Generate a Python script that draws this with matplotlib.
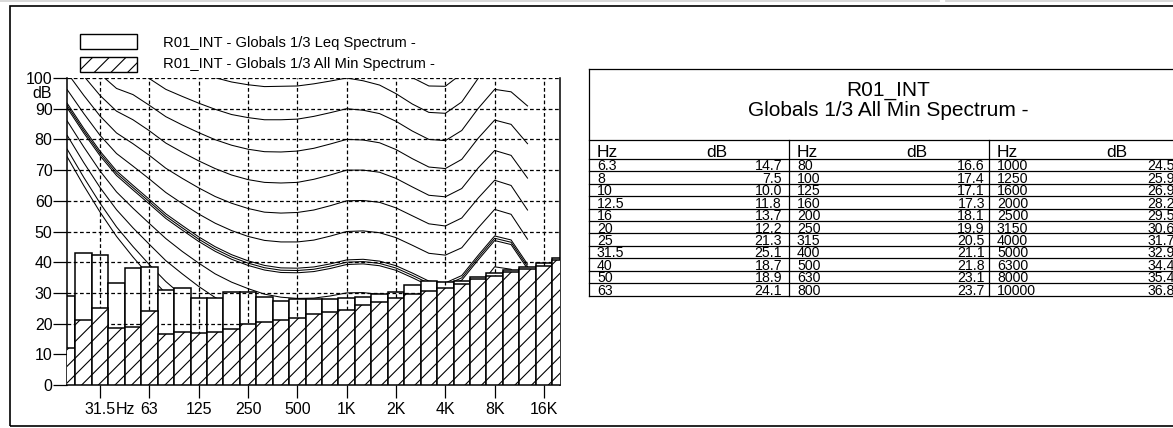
import numpy as np
import matplotlib.pyplot as plt
import matplotlib.transforms as mtransforms
from matplotlib.patches import Rectangle
from matplotlib.lines import Line2D

plt.rcParams['font.family'] = ['Liberation Sans', 'DejaVu Sans']
plt.rcParams['hatch.linewidth'] = 0.8

W, H = 1173, 428

# 1/3 octave bands (Hz) - table starts at 6.3 Hz, chart starts at 20 Hz
band_labels = ['6.3', '8', '10', '12.5', '16', '20', '25', '31.5', '40', '50', '63', '80',
               '100', '125', '160', '200', '250', '315', '400', '500', '630', '800',
               '1000', '1250', '1600', '2000', '2500', '3150', '4000', '5000', '6300',
               '8000', '10000', '12500', '16000', '20000']

# R01_INT - Globals 1/3 All Min Spectrum (dB)
min_spec = [14.7, 7.5, 10.0, 11.8, 13.7, 12.2, 21.3, 25.1, 18.7, 18.9, 24.1, 16.6,
            17.4, 17.1, 17.3, 18.1, 19.9, 20.5, 21.1, 21.8, 23.1, 23.7,
            24.5, 25.9, 26.9, 28.2, 29.5, 30.6, 31.7, 32.9, 34.4,
            35.4, 36.8, 37.8, 38.9, 40.7]

# R01_INT - Globals 1/3 Leq Spectrum (dB), 20 Hz .. 20 kHz
leq_spec = [29.1, 42.9, 42.5, 33.2, 38.1, 38.3, 30.8, 31.7, 28.2, 28.2, 30.2, 30.2,
            28.8, 27.4, 28.0, 28.0, 28.0, 28.3, 28.7, 29.5, 30.4, 32.7, 34.0, 33.4,
            33.9, 35.1, 36.4, 37.5, 38.5, 39.6, 41.5]

# equal loudness contours, 20 Hz .. 12.5 kHz (dB)
threshold = [74.3, 65.0, 56.3, 48.4, 41.7, 35.5, 29.8, 25.1, 20.7, 16.8, 13.8, 11.2, 8.9, 7.2, 6.0,
             5.0, 4.4, 4.2, 3.7, 2.6, 1.0, -1.2, -3.6, -3.9, -1.1, 6.6, 15.3, 16.4, 11.6]
phon_10 = [76.8, 67.7, 59.2, 51.5, 45.1, 39.2, 33.7, 29.1, 24.8, 21.0, 18.1, 15.6, 13.4, 11.9, 10.9,
           10.1, 9.9, 10.0, 9.7, 8.7, 7.2, 5.0, 2.6, 2.2, 4.8, 12.2, 20.4, 21.0, 15.5]
phon_20 = [81.3, 72.5, 64.3, 57.1, 51.2, 45.8, 40.5, 36.2, 32.1, 28.5, 25.7, 23.3, 21.4, 20.1, 19.4,
           19.1, 19.4, 20.0, 19.9, 19.2, 17.7, 15.4, 13.0, 12.5, 15.0, 22.0, 29.4, 29.2, 22.7]
phon_30 = [86.0, 77.6, 69.7, 62.9, 57.6, 52.6, 47.7, 43.5, 39.7, 36.2, 33.5, 31.4, 29.6, 28.6, 28.2,
           28.3, 29.0, 30.0, 30.1, 29.5, 28.0, 25.7, 23.2, 22.6, 25.0, 31.7, 38.5, 37.7, 30.4]
phon_40 = [91.0, 82.9, 75.4, 69.0, 64.3, 59.7, 55.0, 51.2, 47.5, 44.3, 41.7, 39.7, 38.2, 37.4, 37.3,
           37.7, 38.7, 40.0, 40.2, 39.6, 38.1, 35.7, 33.1, 32.5, 34.9, 41.5, 47.8, 46.5, 38.6]
phon_50 = [96.2, 88.5, 81.3, 75.4, 71.3, 67.1, 62.7, 59.1, 55.7, 52.7, 50.3, 48.4, 47.1, 46.6, 46.6,
           47.2, 48.5, 50.0, 50.2, 49.6, 48.0, 45.5, 42.9, 42.3, 44.7, 51.2, 57.2, 55.6, 47.5]
phon_60 = [101.7, 94.4, 87.6, 82.1, 78.6, 74.8, 70.6, 67.3, 64.2, 61.4, 59.2, 57.5, 56.3, 56.0, 56.2,
           57.0, 58.4, 60.0, 60.1, 59.5, 57.7, 55.1, 52.5, 51.8, 54.4, 60.9, 66.7, 65.0, 57.0]
phon_70 = [107.6, 100.7, 94.3, 89.2, 86.4, 82.8, 78.8, 75.8, 73.0, 70.5, 68.4, 66.9, 66.0, 65.8, 66.0,
           67.0, 68.4, 70.0, 70.0, 69.3, 67.3, 64.5, 61.8, 61.3, 64.0, 70.7, 76.4, 74.8, 67.4]
phon_80 = [113.7, 107.3, 101.3, 96.6, 94.6, 91.1, 87.4, 84.7, 82.2, 79.9, 78.1, 76.8, 76.0, 75.9, 76.2,
           77.1, 78.5, 80.0, 79.8, 78.9, 76.7, 73.7, 71.0, 70.5, 73.5, 80.4, 86.3, 84.9, 78.6]
phon_90 = [120.3, 114.4, 108.7, 104.4, 103.2, 99.8, 96.3, 94.0, 91.8, 89.8, 88.1, 87.1, 86.4, 86.4, 86.6,
           87.5, 88.7, 90.0, 89.5, 88.4, 85.9, 82.7, 80.0, 79.6, 82.9, 90.1, 96.3, 95.5, 90.9]
phon_100 = [127.2, 121.9, 116.6, 112.6, 112.3, 108.9, 105.6, 103.6, 101.8, 100.1, 98.7, 97.8, 97.2, 97.3,
            97.4, 98.1, 99.0, 100.0, 99.1, 97.7, 94.9, 91.5, 88.8, 88.5, 92.2, 99.9, 106.6, 106.4, 104.3]
phon_110 = [134.6, 129.8, 125.0, 121.3, 121.9, 118.4, 115.3, 113.7, 112.3, 110.9, 109.7, 109.0, 108.5,
            108.6, 108.6, 109.0, 109.5, 110.0, 108.6, 107.0, 103.8, 100.1, 97.4, 97.3, 101.4, 109.6,
            117.0, 117.9, 119.0]

octave_ticks = ['31.5', '63', '125', '250', '500', '1000', '2000', '4000', '8000', '16000']
octave_names = ['31.5', '63', '125', '250', '500', '1K', '2K', '4K', '8K', '16K']

legend_labels = ['R01_INT - Globals 1/3 Leq Spectrum -', 'R01_INT - Globals 1/3 All Min Spectrum -']
table_title = ['R01_INT', 'Globals 1/3 All Min Spectrum -']

fig = plt.figure(figsize=(W / 100, H / 100), dpi=100)


def fx(x):
    return x / W


def fy(y):
    return 1 - y / H


# ---------------- chart ----------------
ax = fig.add_axes([fx(67.2), fy(385), fx(560.4) - fx(67.2), (385 - 78) / H])

chart_bands = band_labels[band_labels.index('20'):]
xb = np.arange(len(chart_bands))
xc = np.arange(len(phon_40))

thin = [threshold, phon_10, phon_20, phon_30, phon_50, phon_60, phon_70, phon_80, phon_90,
        phon_100, phon_110]
for curve in thin:
    ax.plot(xc, curve, color='black', lw=0.75, zorder=1)
# the 40 phon contour is drawn as a triple line
for off in (-2.3, 0, 2.3):
    tr = ax.transData + mtransforms.ScaledTranslation(0, off / 100, fig.dpi_scale_trans)
    ax.plot(xc, phon_40, color='black', lw=0.75, transform=tr, zorder=1)

ax.bar(xb, leq_spec, width=1, facecolor='white', edgecolor='black', lw=1.1, zorder=2)
ax.bar(xb, min_spec[band_labels.index('20'):], width=1, facecolor='white', edgecolor='black',
       lw=1.1, hatch='//', zorder=3)

ax.set_xlim(0, len(chart_bands) - 1)
ax.set_ylim(0, 100)
ax.set_xticks([chart_bands.index(t) for t in octave_ticks])
ax.set_xticklabels(octave_names)
ax.set_yticks(range(0, 101, 10))
ax.set_axisbelow(False)
ax.grid(True, color='black', linestyle=(0, (3, 2)), lw=0.9)
ax.tick_params(axis='y', direction='out', length=10, width=0.9, pad=0.5, labelsize=11.5)
ax.tick_params(axis='x', direction='out', length=9.5, width=0.9, pad=3, labelsize=11.5)
ax.spines['top'].set_visible(False)
for s in ('left', 'right', 'bottom'):
    ax.spines[s].set_linewidth(1.1)

ax.annotate('Hz', xy=(chart_bands.index('31.5'), 0), xycoords='data',
            xytext=(11.6, -12.5), textcoords='offset points', ha='left', va='top', fontsize=11.5)
fig.text(fx(52), fy(93), 'dB', ha='right', va='center', fontsize=11.5)

# ---------------- legend ----------------
fig.add_artist(Rectangle((fx(80), fy(48.5)), fx(57), 14.5 / H, transform=fig.transFigure,
                         facecolor='white', edgecolor='black', lw=1.0))
fig.add_artist(Rectangle((fx(80), fy(71.5)), fx(57), 14.5 / H, transform=fig.transFigure,
                         facecolor='white', edgecolor='black', lw=1.0, hatch='//'))
fig.text(fx(163), fy(47.3), legend_labels[0], ha='left', va='baseline', fontsize=10.6)
fig.text(fx(163), fy(68.3), legend_labels[1], ha='left', va='baseline', fontsize=10.6)

# ---------------- table ----------------
tab_left, tab_top, tab_right = 589, 69, 1200
col_x = [589, 789, 989]
val_right = [782, 985, 1175]
title_bot, head_bot, row_h = 140, 158.7, 12.45
n_rows = 11
tab_bot = head_bot + n_rows * row_h


def hline(y):
    fig.add_artist(Line2D([fx(tab_left), fx(tab_right)], [fy(y), fy(y)], transform=fig.transFigure,
                          color='black', lw=0.9))


def vline(x, y0, y1):
    fig.add_artist(Line2D([fx(x), fx(x)], [fy(y0), fy(y1)], transform=fig.transFigure,
                          color='black', lw=0.9))


hline(tab_top)
hline(title_bot)
vline(tab_left, tab_top, tab_bot)
for c in col_x[1:]:
    vline(c, title_bot, tab_bot)
for r in range(n_rows + 1):
    hline(head_bot + r * row_h)

fig.text(fx(888), fy(95.5), table_title[0], ha='center', va='baseline', fontsize=15)
fig.text(fx(888), fy(116), table_title[1], ha='center', va='baseline', fontsize=15)

for c in col_x:
    fig.text(fx(c + 8), fy(head_bot - 1.5), 'Hz', ha='left', va='baseline', fontsize=12.5)
    fig.text(fx(c + 128), fy(head_bot - 1.5), 'dB', ha='center', va='baseline', fontsize=12.5)

for i in range(n_rows * 3):
    col, row = divmod(i, n_rows)
    yb = head_bot + (row + 1) * row_h - 0.8
    fig.text(fx(col_x[col] + 8), fy(yb), band_labels[i], ha='left', va='baseline', fontsize=10.2)
    fig.text(fx(val_right[col]), fy(yb), f'{min_spec[i]:.1f}', ha='right', va='baseline', fontsize=10.2)

# ---------------- page frame ----------------
fig.add_artist(Rectangle((fx(10), fy(426)), fx(1185 - 10), (426 - 6) / H, transform=fig.transFigure,
                         facecolor='none', edgecolor='black', lw=1.2))
fig.add_artist(Line2D([0, fx(939)], [fy(0.8), fy(0.8)], transform=fig.transFigure, color='#d6d6d6', lw=1.3))
fig.add_artist(Line2D([fx(946), 1], [fy(0.8), fy(0.8)], transform=fig.transFigure, color='#d6d6d6', lw=1.3))

fig.savefig('out.png', dpi=100, facecolor='white')
